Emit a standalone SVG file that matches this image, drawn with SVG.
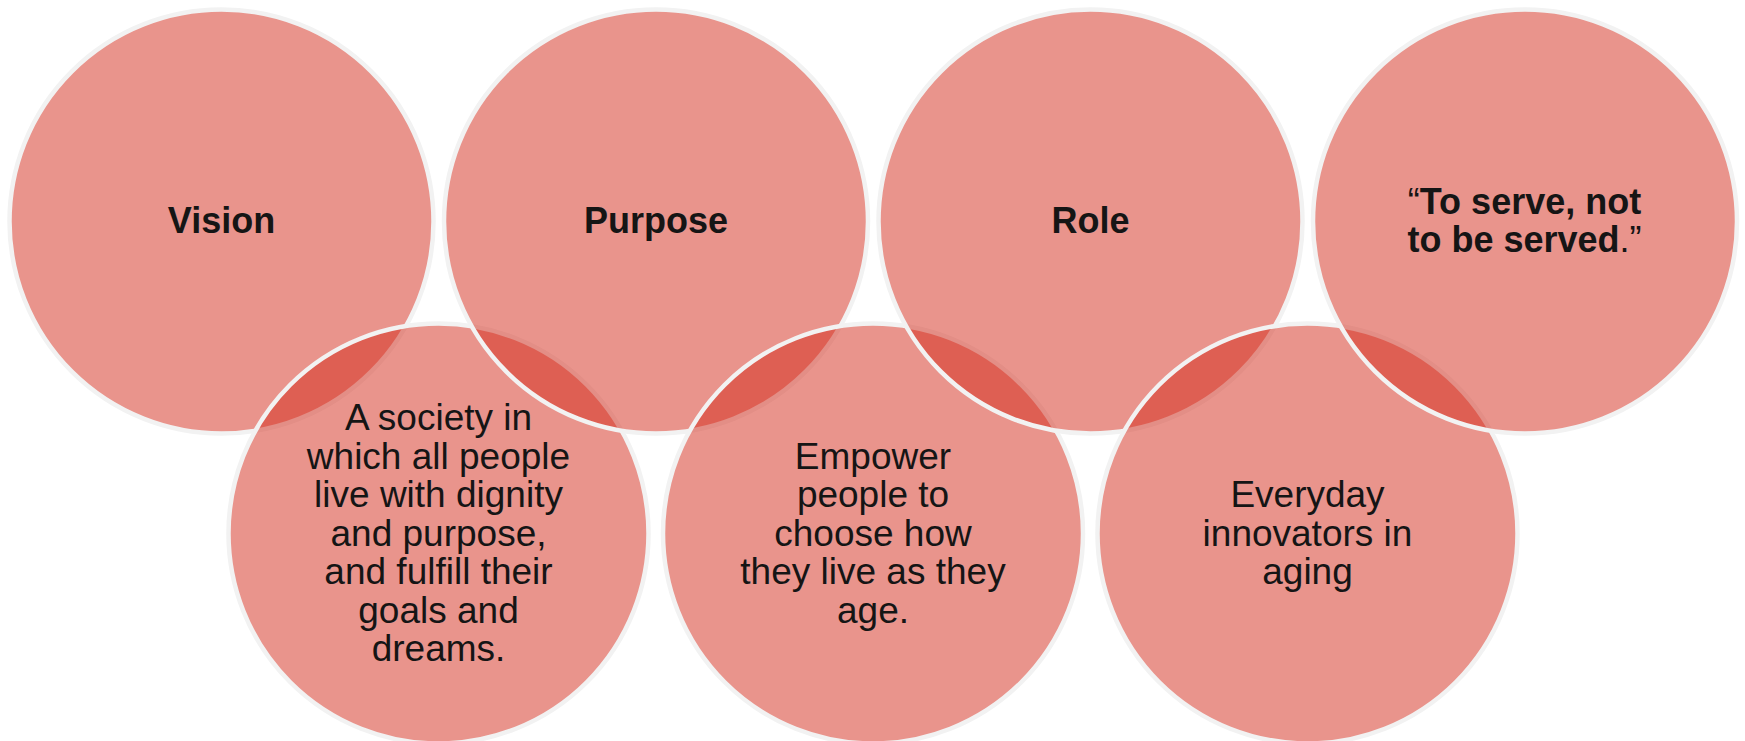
<svg xmlns="http://www.w3.org/2000/svg" width="1745" height="741" viewBox="0 0 1745 741">
<style>
.c{fill:#D32919;fill-opacity:0.5;stroke:#F2F2F2;stroke-width:4.5}
.t{font-family:"Liberation Sans",Arial,sans-serif;font-size:37px;fill:#151515;text-anchor:middle}
.b{font-weight:bold;font-size:36px}
.n{font-weight:normal}
</style>
<rect width="1745" height="741" fill="#ffffff"/>
<g id="vision">
<circle class="c" cx="221.5" cy="221.5" r="212"/>
<text class="t b" x="221.5" y="233">Vision</text>
</g>
<g id="society">
<circle class="c" cx="438.5" cy="533.5" r="210"/>
<text class="t" x="438.5" y="430">A society in</text>
<text class="t" x="438.5" y="468.5">which all people</text>
<text class="t" x="438.5" y="507">live with dignity</text>
<text class="t" x="438.5" y="545.5">and purpose,</text>
<text class="t" x="438.5" y="584">and fulfill their</text>
<text class="t" x="438.5" y="622.5">goals and</text>
<text class="t" x="438.5" y="661">dreams.</text>
</g>
<g id="purpose">
<circle class="c" cx="656" cy="221.5" r="212"/>
<text class="t b" x="656" y="233">Purpose</text>
</g>
<g id="empower">
<circle class="c" cx="873" cy="533.5" r="210"/>
<text class="t" x="873" y="468.5">Empower</text>
<text class="t" x="873" y="507">people to</text>
<text class="t" x="873" y="545.5">choose how</text>
<text class="t" x="873" y="584">they live as they</text>
<text class="t" x="873" y="622.5">age.</text>
</g>
<g id="role">
<circle class="c" cx="1090.5" cy="221.5" r="212"/>
<text class="t b" x="1090.5" y="233">Role</text>
</g>
<g id="everyday">
<circle class="c" cx="1307.5" cy="533.5" r="210"/>
<text class="t" x="1307.5" y="507">Everyday</text>
<text class="t" x="1307.5" y="545.5">innovators in</text>
<text class="t" x="1307.5" y="584">aging</text>
</g>
<g id="serve">
<circle class="c" cx="1525" cy="221.5" r="212"/>
<text class="t b" x="1524.5" y="213.5"><tspan class="n">“</tspan>To serve, not</text>
<text class="t b" x="1524.5" y="252">to be served<tspan class="n">.”</tspan></text>
</g>
<g id="connectors"></g>
</svg>
